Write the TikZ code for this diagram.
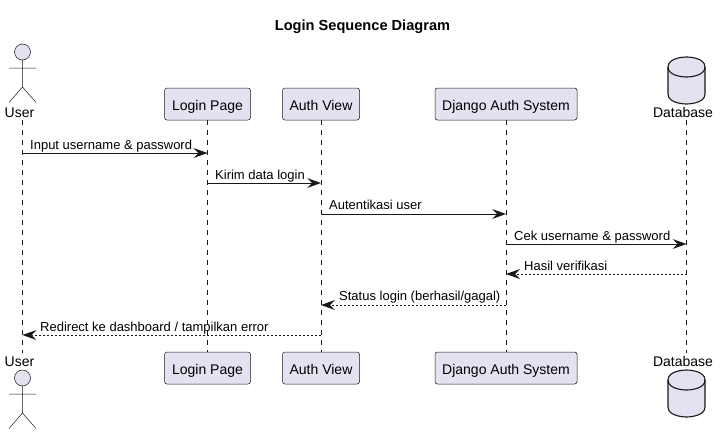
\documentclass[tikz,border=0pt]{standalone}
\usepackage{fontspec}
\setmainfont{Liberation Sans}
\usetikzlibrary{arrows.meta}
\definecolor{ink}{HTML}{181818}
\definecolor{part}{HTML}{E2E2F0}
\tikzset{
  x=1pt,y=-1pt,
  partbox/.style={draw=ink,line width=0.5pt,fill=part,rounded corners=2.5pt,minimum height=32pt,inner sep=0pt,text=black,text height=14pt,text depth=2pt,font=\fontsize{14}{16}\selectfont},
  actorlabel/.style={inner sep=0pt,text=black,anchor=base,font=\fontsize{14}{16}\selectfont},
  msglabel/.style={inner sep=0pt,text=black,anchor=base west,font=\fontsize{13}{15}\selectfont},
  lifeline/.style={draw=ink,line width=0.5pt,dash pattern=on 5pt off 5pt},
  msg/.style={draw=ink,line width=1pt,-{Stealth[length=14pt,width=10pt,inset=5pt,color=ink,line width=0pt]}},
  reply/.style={msg,dash pattern=on 2pt off 2pt},
  actorline/.style={draw=ink,line width=0.5pt},
  dbshape/.style={draw=ink,line width=1.1pt,fill=part},
}
\newcommand{\dbdraw}[1]{%
  \begin{scope}[shift={(686.5,#1)}]
    \draw[dbshape] (-18.5,10) .. controls (-18.5,0) and (0,0) .. (0,0)
      .. controls (0,0) and (18.5,0) .. (18.5,10)
      -- (18.5,37) .. controls (18.5,47) and (0,47) .. (0,47)
      .. controls (0,47) and (-18.5,47) .. (-18.5,37) -- cycle;
    \draw[dbshape,fill=none] (-18.5,10) .. controls (-18.5,20) and (0,20) .. (0,20)
      .. controls (0,20) and (18.5,20) .. (18.5,10);
  \end{scope}}
\newcommand{\actordraw}[1]{%
  \begin{scope}[shift={(22.5,#1)}]
    \draw[actorline,fill=part] (0,0) circle[radius=8];
    \draw[actorline] (0,8) -- (0,35) (-13.5,16) -- (13.5,16) (-13.5,50.5) -- (0,35) -- (13.5,50.5);
  \end{scope}}
\begin{document}
\begin{tikzpicture}
\useasboundingbox (0,0) rectangle (720,434);
\fill[white] (0,0) rectangle (720,434);
\node[inner sep=0pt,anchor=base,font=\fontsize{14.6}{16}\selectfont\bfseries] (title) at (362.5,30) {Login Sequence Diagram};

% lifeline ends
\coordinate (ut) at (22.5,120); \coordinate (ub) at (22.5,353);
\coordinate (lt) at (207.5,120); \coordinate (lb) at (207.5,353);
\coordinate (at) at (321,120); \coordinate (ab) at (321,353);
\coordinate (jt) at (506,120); \coordinate (jb) at (506,353);
\coordinate (dt) at (686.5,120); \coordinate (db) at (686.5,353);
\draw[lifeline] (ut) -- (ub);
\draw[lifeline] (lt) -- (lb);
\draw[lifeline] (at) -- (ab);
\draw[lifeline] (jt) -- (jb);
\draw[lifeline] (dt) -- (db);

% participants
\node[partbox,minimum width=86pt] (login1) at (207.5,104) {Login Page};
\node[partbox,minimum width=77pt] (auth1) at (321,104) {Auth View};
\node[partbox,minimum width=142pt] (django1) at (506,104) {Django Auth System};
\node[partbox,minimum width=86pt] (login2) at (207.5,368) {Login Page};
\node[partbox,minimum width=77pt] (auth2) at (321,368) {Auth View};
\node[partbox,minimum width=142pt] (django2) at (506,368) {Django Auth System};

\actordraw{52}
\node[actorlabel] (user1) at (19.5,117) {User};
\node[actorlabel] (user2) at (19.5,366.5) {User};
\actordraw{378}
\dbdraw{57}
\node[actorlabel] (db1) at (683,117) {Database};
\node[actorlabel] (db2) at (683,366.5) {Database};
\dbdraw{370}

% messages
\coordinate (m1) at (0,153); \coordinate (m2) at (0,183); \coordinate (m3) at (0,214);
\coordinate (m4) at (0,244); \coordinate (m5) at (0,274); \coordinate (m6) at (0,305); \coordinate (m7) at (0,335);
\draw[msg] (ut |- m1) -- (lt |- m1);
\draw[msg] (lt |- m2) -- (at |- m2);
\draw[msg] (at |- m3) -- (jt |- m3);
\draw[msg] (jt |- m4) -- (dt |- m4);
\draw[reply] (dt |- m5) -- (jt |- m5);
\draw[reply] (jt |- m6) -- (at |- m6);
\draw[reply] (at |- m7) -- (ut |- m7);

\node[msglabel] (t1) at (30,149) {Input username \& password};
\node[msglabel] (t2) at (215,179) {Kirim data login};
\node[msglabel] (t3) at (329,209) {Autentikasi user};
\node[msglabel] (t4) at (514,240) {Cek username \& password};
\node[msglabel] (t5) at (524,270) {Hasil verifikasi};
\node[msglabel] (t6) at (339,300) {Status login (berhasil/gagal)};
\node[msglabel] (t7) at (40,331) {Redirect ke dashboard / tampilkan error};
\end{tikzpicture}
\end{document}
